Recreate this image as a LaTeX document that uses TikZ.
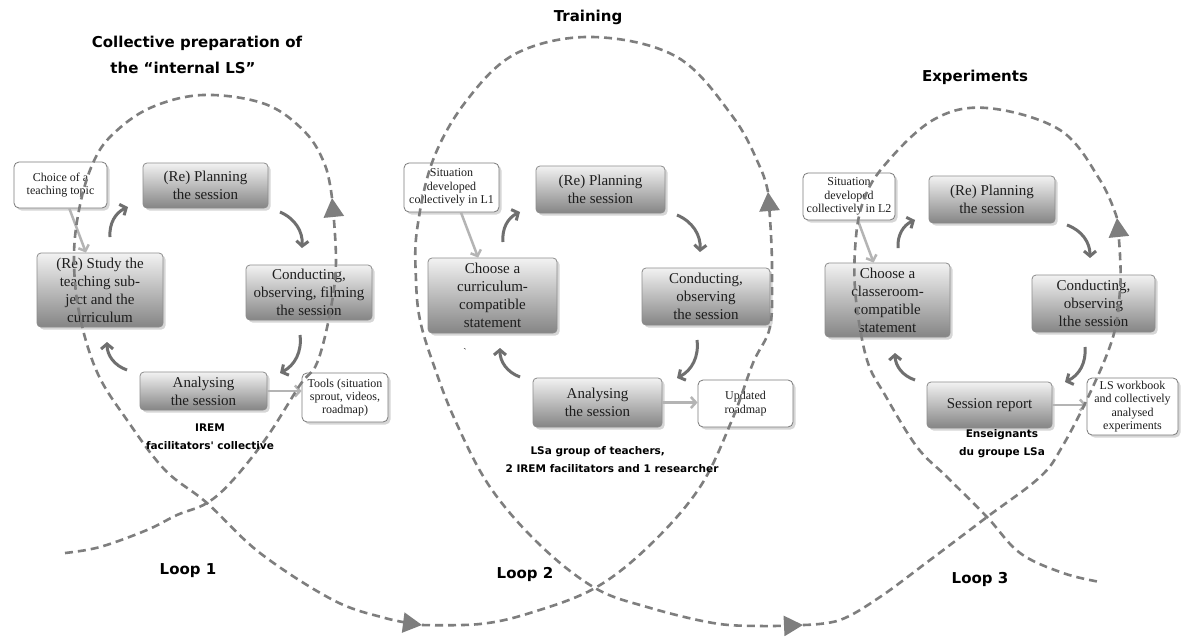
\documentclass[tikz,border=0pt]{standalone}
\usepackage{fontspec}
\setmainfont{Liberation Serif}
\newfontfamily\labfont{DejaVu Sans}
\usetikzlibrary{arrows.meta,shadows}

\definecolor{spiral}{HTML}{7E7E7E}
\definecolor{cyc}{HTML}{6F6F6F}
\definecolor{feed}{HTML}{B4B4B4}
\definecolor{boxtop}{HTML}{F2F2F2}
\definecolor{boxbot}{HTML}{858585}
\definecolor{boxedge}{HTML}{8C8C8C}
\definecolor{noteedge}{HTML}{7A7A7A}
\definecolor{ink}{HTML}{1E1E1E}

\tikzset{
  softshadow/.style={drop shadow={shadow xshift=2.5pt, shadow yshift=-2.5pt, fill=black!35, opacity=0.45}},
  stepbox/.style={draw=boxedge, line width=0.8pt, rounded corners=4pt,
    top color=boxtop, bottom color=boxbot, align=center, inner sep=1pt,
    text=ink, font=\fontsize{15}{18}\selectfont, softshadow},
  notebox/.style={draw=noteedge, line width=0.8pt, fill=white, rounded corners=5pt,
    align=center, inner sep=1pt, text=ink, font=\fontsize{12}{13.3}\selectfont, softshadow},
  cycarrow/.style={draw=cyc, line width=3pt, -{Straight Barb[length=5pt,width=12pt]}, bend left=35},
  feedarrow/.style={draw=feed, line width=2.5pt, -{Straight Barb[length=5pt,width=11pt]}},
  spiralpath/.style={draw=spiral, line width=2.6pt, dash pattern=on 8pt off 5pt},
  spiraltip/.style={-{Triangle[length=19pt,width=20pt]}},
  lab/.style={font=\labfont\bfseries\fontsize{15}{18}\selectfont, text=black},
  grp/.style={font=\labfont\bfseries\fontsize{10.5}{18}\selectfont, text=black, align=center},
}

\begin{document}
\begin{tikzpicture}[x=1pt,y=-1pt]
\useasboundingbox (0,0) rectangle (1181,637);
\fill[white] (0,0) rectangle (1181,637);

% ---------- Loop 1 ----------
\node[notebox, minimum width=93pt, minimum height=46pt] (choice1) at (60.5,185) {Choice of a\\teaching topic};
\node[stepbox, minimum width=125pt, minimum height=45pt] (plan1) at (205.5,185.5) {(Re) Planning\\the session};
\node[stepbox, minimum width=126pt, minimum height=74pt] (study1) at (100,290) {(Re) Study the\\teaching sub-\\ject and the\\curriculum};
\node[stepbox, minimum width=126pt, minimum height=55pt] (cond1) at (309,292.5) {Conducting,\\observing, filming\\the session};
\node[stepbox, minimum width=127pt, minimum height=38pt] (anal1) at (203.5,391) {Analysing\\the session};
\node[notebox, minimum width=86pt, minimum height=49pt] (tools1) at (345,397.5) {Tools (situation\\sprout, videos,\\roadmap)};

% ---------- Loop 2 ----------
\node[notebox, minimum width=95pt, minimum height=49pt] (sit2) at (451.5,187.5) {Situation\\developed\\collectively in L1};
\node[stepbox, minimum width=129pt, minimum height=47pt] (plan2) at (600.5,189.5) {(Re) Planning\\the session};
\node[stepbox, minimum width=129pt, minimum height=75pt] (choose2) at (492.5,295.5) {Choose a\\curriculum-\\compatible\\statement};
\node[stepbox, minimum width=128pt, minimum height=57pt] (cond2) at (706,296.5) {Conducting,\\observing\\the session};
\node[stepbox, minimum width=129pt, minimum height=49pt] (anal2) at (597.5,402.5) {Analysing\\the session};
\node[notebox, minimum width=95pt, minimum height=47pt] (upd2) at (745.5,403.5) {Updated\\roadmap};
\node[text=ink, font=\fontsize{10}{10}\selectfont, inner sep=0pt] (tick2) at (465,352) {\textasciigrave};

% ---------- Loop 3 ----------
\node[notebox, minimum width=92pt, minimum height=47pt] (sit3) at (849,196.5) {Situation\\developed\\collectively in L2};
\node[stepbox, minimum width=126pt, minimum height=47pt] (plan3) at (992,199.5) {(Re) Planning\\the session};
\node[stepbox, minimum width=125pt, minimum height=74pt] (choose3) at (887.5,300) {Choose a\\classeroom-\\compatible\\statement};
\node[stepbox, minimum width=123pt, minimum height=57pt] (cond3) at (1093.5,303.5) {Conducting,\\observing\\lthe session};
\node[stepbox, minimum width=125pt, minimum height=46pt] (rep3) at (989.5,405) {Session report};
\node[notebox, minimum width=91pt, minimum height=57pt] (ws3) at (1132.5,406.5) {LS workbook\\and collectively\\analysed\\experiments};

% ---------- inputs and outputs of each cycle ----------
\draw[feedarrow] (choice1) -- (study1);
\draw[feedarrow] (sit2) -- (choose2);
\draw[feedarrow] (sit3) -- (choose3);
\draw[feedarrow] (anal1.east) -- (anal1.east -| tools1.west);
\draw[feedarrow] (anal2.east) -- (anal2.east -| upd2.west);
\draw[feedarrow] (rep3.east) -- (rep3.east -| ws3.west);

% ---------- cycle arrows ----------
\coordinate (a1s) at (110,237);  \coordinate (a1e) at (128,207);
\coordinate (b1s) at (280,212);  \coordinate (b1e) at (302,248);
\coordinate (c1s) at (300,335);  \coordinate (c1e) at (280,373);
\coordinate (d1s) at (127,370);  \coordinate (d1e) at (107,342);
\coordinate (a2s) at (503,242);  \coordinate (a2e) at (520,212);
\coordinate (b2s) at (677,215);  \coordinate (b2e) at (700,252);
\coordinate (c2s) at (697,340);  \coordinate (c2e) at (677,378);
\coordinate (d2s) at (520,377);  \coordinate (d2e) at (500,348);
\coordinate (a3s) at (898,248);  \coordinate (a3e) at (915,220);
\coordinate (b3s) at (1067,225); \coordinate (b3e) at (1090,258);
\coordinate (c3s) at (1085,347); \coordinate (c3e) at (1065,382);
\coordinate (d3s) at (915,380);  \coordinate (d3e) at (895,353);
\foreach \s in {a1,b1,c1,d1,a2,b2,c2,d2,a3,b3,c3,d3}
  \draw[cycarrow] (\s s) to (\s e);

% ---------- the dashed spiral through the three loops ----------
\draw[spiralpath, spiraltip] plot[smooth, tension=0.6] coordinates {
  (65,553) (100,547) (147,530) (177,515) (207,503) (233,480) (267,437)
  (300,385) (317,363) (330,313) (336,262) (332,198)};
\draw[spiralpath, spiraltip] plot[smooth, tension=0.6] coordinates {
  (332,198) (325,165) (305,132) (265,104) (203,95) (150,108) (112,135)
  (93,163) (80,205) (74,255) (79,312) (97,372) (127,420) (165,470)
  (207,503) (260,553) (333,600) (385,618) (422,625)};
\draw[spiralpath, spiraltip] plot[smooth, tension=0.6] coordinates {
  (422,625) (480,624) (530,613) (595,588) (650,545) (700,487) (732,420)
  (753,363) (770,327) (772,275) (771,235) (768,192)};
\draw[spiralpath, spiraltip] plot[smooth, tension=0.6] coordinates {
  (768,192) (760,167) (733,117) (677,57) (593,37) (517,53) (467,100)
  (433,160) (417,230) (416,280) (420,320) (433,363) (455,420) (490,487)
  (540,545) (595,588) (647,607) (713,623) (760,626) (803,625)};
\draw[spiralpath, spiraltip] plot[smooth, tension=0.6] coordinates {
  (803,625) (840,620) (880,597) (930,560) (987,517) (1040,477) (1062,447)
  (1090,393) (1113,337) (1120,290) (1120,255) (1117,218)};
\draw[spiralpath] plot[smooth, tension=0.6] coordinates {
  (1117,218) (1100,180) (1060,130) (987,108) (933,120) (883,167) (862,205)
  (855,250) (856,300) (867,360) (885,395) (917,447) (947,477) (987,517)
  (1020,553) (1063,573) (1100,582)};

% ---------- headings and group labels ----------
\node[lab] (t1a) at (197,43) {Collective preparation of};
\node[lab] (t1b) at (183,68) {the “internal LS”};
\node[lab] (t2) at (588,17) {Training};
\node[lab] (t3) at (975,77) {Experiments};
\node[grp] (g1) at (210,437) {IREM\\facilitators\textquotesingle{} collective};
\node[grp, anchor=west] (g2a) at (527,452) {LSa group of teachers,};
\node[grp, anchor=west] (g2b) at (502,469) {2 IREM facilitators and 1 researcher};
\node[grp] (g3) at (1002,444) {Enseignants\\du groupe LSa};
\node[lab] (l1) at (188,571) {Loop 1};
\node[lab] (l2) at (525,574) {Loop 2};
\node[lab] (l3) at (980,579) {Loop 3};
\end{tikzpicture}
\end{document}
